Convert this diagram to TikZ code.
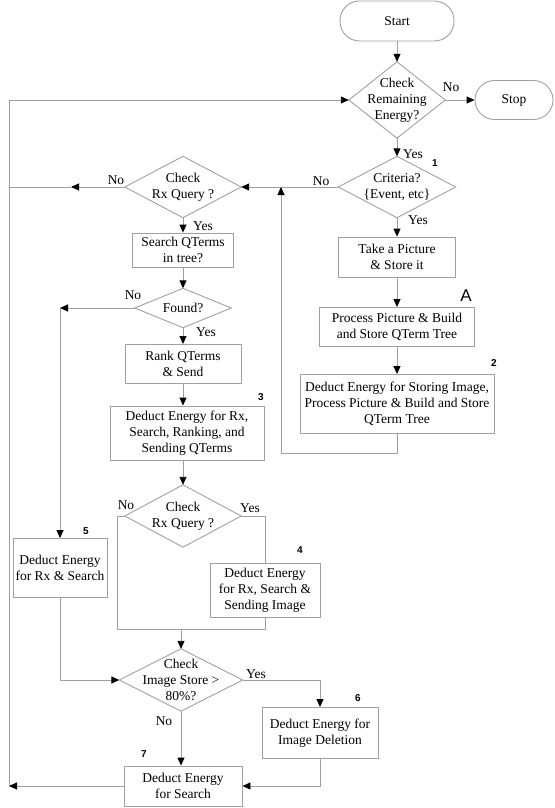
\documentclass[tikz,border=0pt]{standalone}
\usepackage{fontspec}
\setmainfont{Liberation Serif}
\newfontfamily\lblfont{Liberation Sans}
\usetikzlibrary{arrows.meta}
\definecolor{lc}{RGB}{160,160,160}
\begin{document}
\begin{tikzpicture}[x=1pt,y=-1pt,
 font=\fontsize{13.5}{16}\selectfont,
 ln/.style={draw=lc, line width=0.9pt},
 box/.style={ln, rectangle, inner sep=0pt, align=center},
 term/.style={box, rounded corners=19.5pt},
 dia/.style={rectangle, inner sep=0pt, align=center},
 arr/.style={ln, -{Triangle[width=7pt,length=8pt,color=black]}},
 lbl/.style={inner sep=0pt},
 num/.style={inner sep=0pt, font=\lblfont\fontsize{10}{12}\selectfont\bfseries},
 bigl/.style={inner sep=0pt, font=\lblfont\fontsize{17}{20}\selectfont},
]
\useasboundingbox (0,0) rectangle (554,808);

% terminals
\node[term, minimum width=114, minimum height=40] (start) at (397,21) {Start};
\node[term, minimum width=78, minimum height=39] (stop) at (514,100) {Stop};

% diamonds
\node[dia, minimum width=96, minimum height=76] (chk) at (397,100) {Check\\Remaining\\Energy?};
\node[dia, minimum width=117, minimum height=61] (crit) at (397,187) {Criteria?\\\{Event, etc\}};
\node[dia, minimum width=116, minimum height=61] (rx1) at (183,187) {Check\\Rx Query ?};
\node[dia, minimum width=96, minimum height=39] (found) at (183,308) {Found?};
\node[dia, minimum width=116, minimum height=62] (rx2) at (183,516) {Check\\Rx Query ?};
\node[dia, minimum width=123, minimum height=62] (img) at (181,680) {Check\\Image Store >\\80\%?};
\foreach \d in {chk,crit,rx1,found,rx2,img}
  \draw[ln] (\d.north) -- (\d.east) -- (\d.south) -- (\d.west) -- cycle;

% boxes
\node[box, minimum width=101, minimum height=34] (search) at (183,250) {Search QTerms\\in tree?};
\node[box, minimum width=116, minimum height=39] (rank) at (183,364) {Rank QTerms\\\& Send};
\node[box, minimum width=154, minimum height=54] (b3) at (187,433) {Deduct Energy for Rx,\\Search, Ranking, and\\Sending QTerms};
\node[box, minimum width=117, minimum height=40] (take) at (397,257) {Take a Picture\\\& Store it};
\node[box, minimum width=155, minimum height=39] (proc) at (397,327) {Process Picture \& Build\\and Store QTerm Tree};
\node[box, minimum width=194, minimum height=59] (b2) at (397,404) {Deduct Energy for Storing Image,\\Process Picture \& Build and Store\\QTerm Tree};
\node[box, minimum width=110, minimum height=54] (b4) at (265,590) {Deduct Energy\\for Rx, Search \&\\Sending Image};
\node[box, minimum width=94, minimum height=59] (b5) at (60,568) {Deduct Energy\\for Rx \& Search};
\node[box, minimum width=116, minimum height=51] (b6) at (320,733) {Deduct Energy for\\Image Deletion};
\node[box, minimum width=118, minimum height=40] (b7) at (183,786) {Deduct Energy\\for Search};

% helper coordinates
\coordinate (L1) at (9,100);
\coordinate (L2) at (9,786);
\coordinate (nA) at (71,187);
\coordinate (nB) at (9,187);
\coordinate (fA) at (60,308);
\coordinate (loopA) at (397,453);
\coordinate (loopB) at (281,453);
\coordinate (loopC) at (281,187);
\coordinate (nL) at (117,516);
\coordinate (nD) at (117,629);
\coordinate (mrg) at (181,629);
\coordinate (yR) at (265,516);
\coordinate (b5D) at (60,680);
\coordinate (iR) at (320,680);
\coordinate (b6D) at (320,786);

% connectors
\draw[arr] (start) -- (chk.north);
\draw[arr] (chk.east) -- (stop.west);
\draw[arr] (chk.south) -- (crit.north);
\draw[arr] (crit.west) -- (rx1.east);
\draw[arr] (crit.south) -- (take.north);
\draw[arr] (take) -- (proc);
\draw[arr] (proc) -- (b2);
\draw[ln] (b2.south) -- (loopA) -- (loopB);
\draw[arr] (loopB) -- (loopC);
\draw[arr] (rx1.west) -- (nA);
\draw[ln] (nA) -- (nB);
\draw[arr] (rx1.south) -- (search.north);
\draw[arr] (search) -- (found);
\draw[arr] (found.west) -- (fA);
\draw[arr] (fA) -- (fA |- b5.north);
\draw[arr] (found.south) -- (rank.north);
\draw[arr] (rank.south) -- (rank.south |- b3.north);
\draw[arr] (b3.south -| rx2.north) -- (rx2.north);
\draw[ln] (rx2.west) -- (nL) -- (nD) -- (nD -| b4.south) -- (b4.south);
\draw[ln] (rx2.east) -- (yR) -- (b4.north);
\draw[arr] (mrg) -- (img.north);
\draw[arr] (b5.south -| fA) -- (b5D) -- (img.west);
\draw[arr] (img.east) -- (iR) -- (b6.north);
\draw[arr] (img.south) -- (img.south |- b7.north);
\draw[arr] (b6.south) -- (b6D) -- (b7.east);
\draw[arr] (b7.west) -- (L2);
\draw[arr] (L2) -- (L1) -- (chk.west);

% labels
\node[lbl] (l1) at (451,87) {No};
\node[lbl] (l2) at (413,154) {Yes};
\node[lbl] (l3) at (321,181) {No};
\node[lbl] (l4) at (116,180) {No};
\node[lbl] (l5) at (418,220) {Yes};
\node[lbl] (l6) at (203,226) {Yes};
\node[lbl] (l7) at (133,295) {No};
\node[lbl] (l8) at (206,332) {Yes};
\node[lbl] (l9) at (126,505) {No};
\node[lbl] (l10) at (250,508) {Yes};
\node[lbl] (l11) at (256,674) {Yes};
\node[lbl] (l12) at (164,721) {No};

\node[num] (n1) at (435,163) {1};
\node[num] (n2) at (494,363) {2};
\node[num] (n3) at (261,397) {3};
\node[num] (n4) at (300,550) {4};
\node[num] (n5) at (86,531) {5};
\node[num] (n6) at (358,698) {6};
\node[num] (n7) at (144,754) {7};
\node[bigl] (nA2) at (466,296) {A};
\end{tikzpicture}
\end{document}
